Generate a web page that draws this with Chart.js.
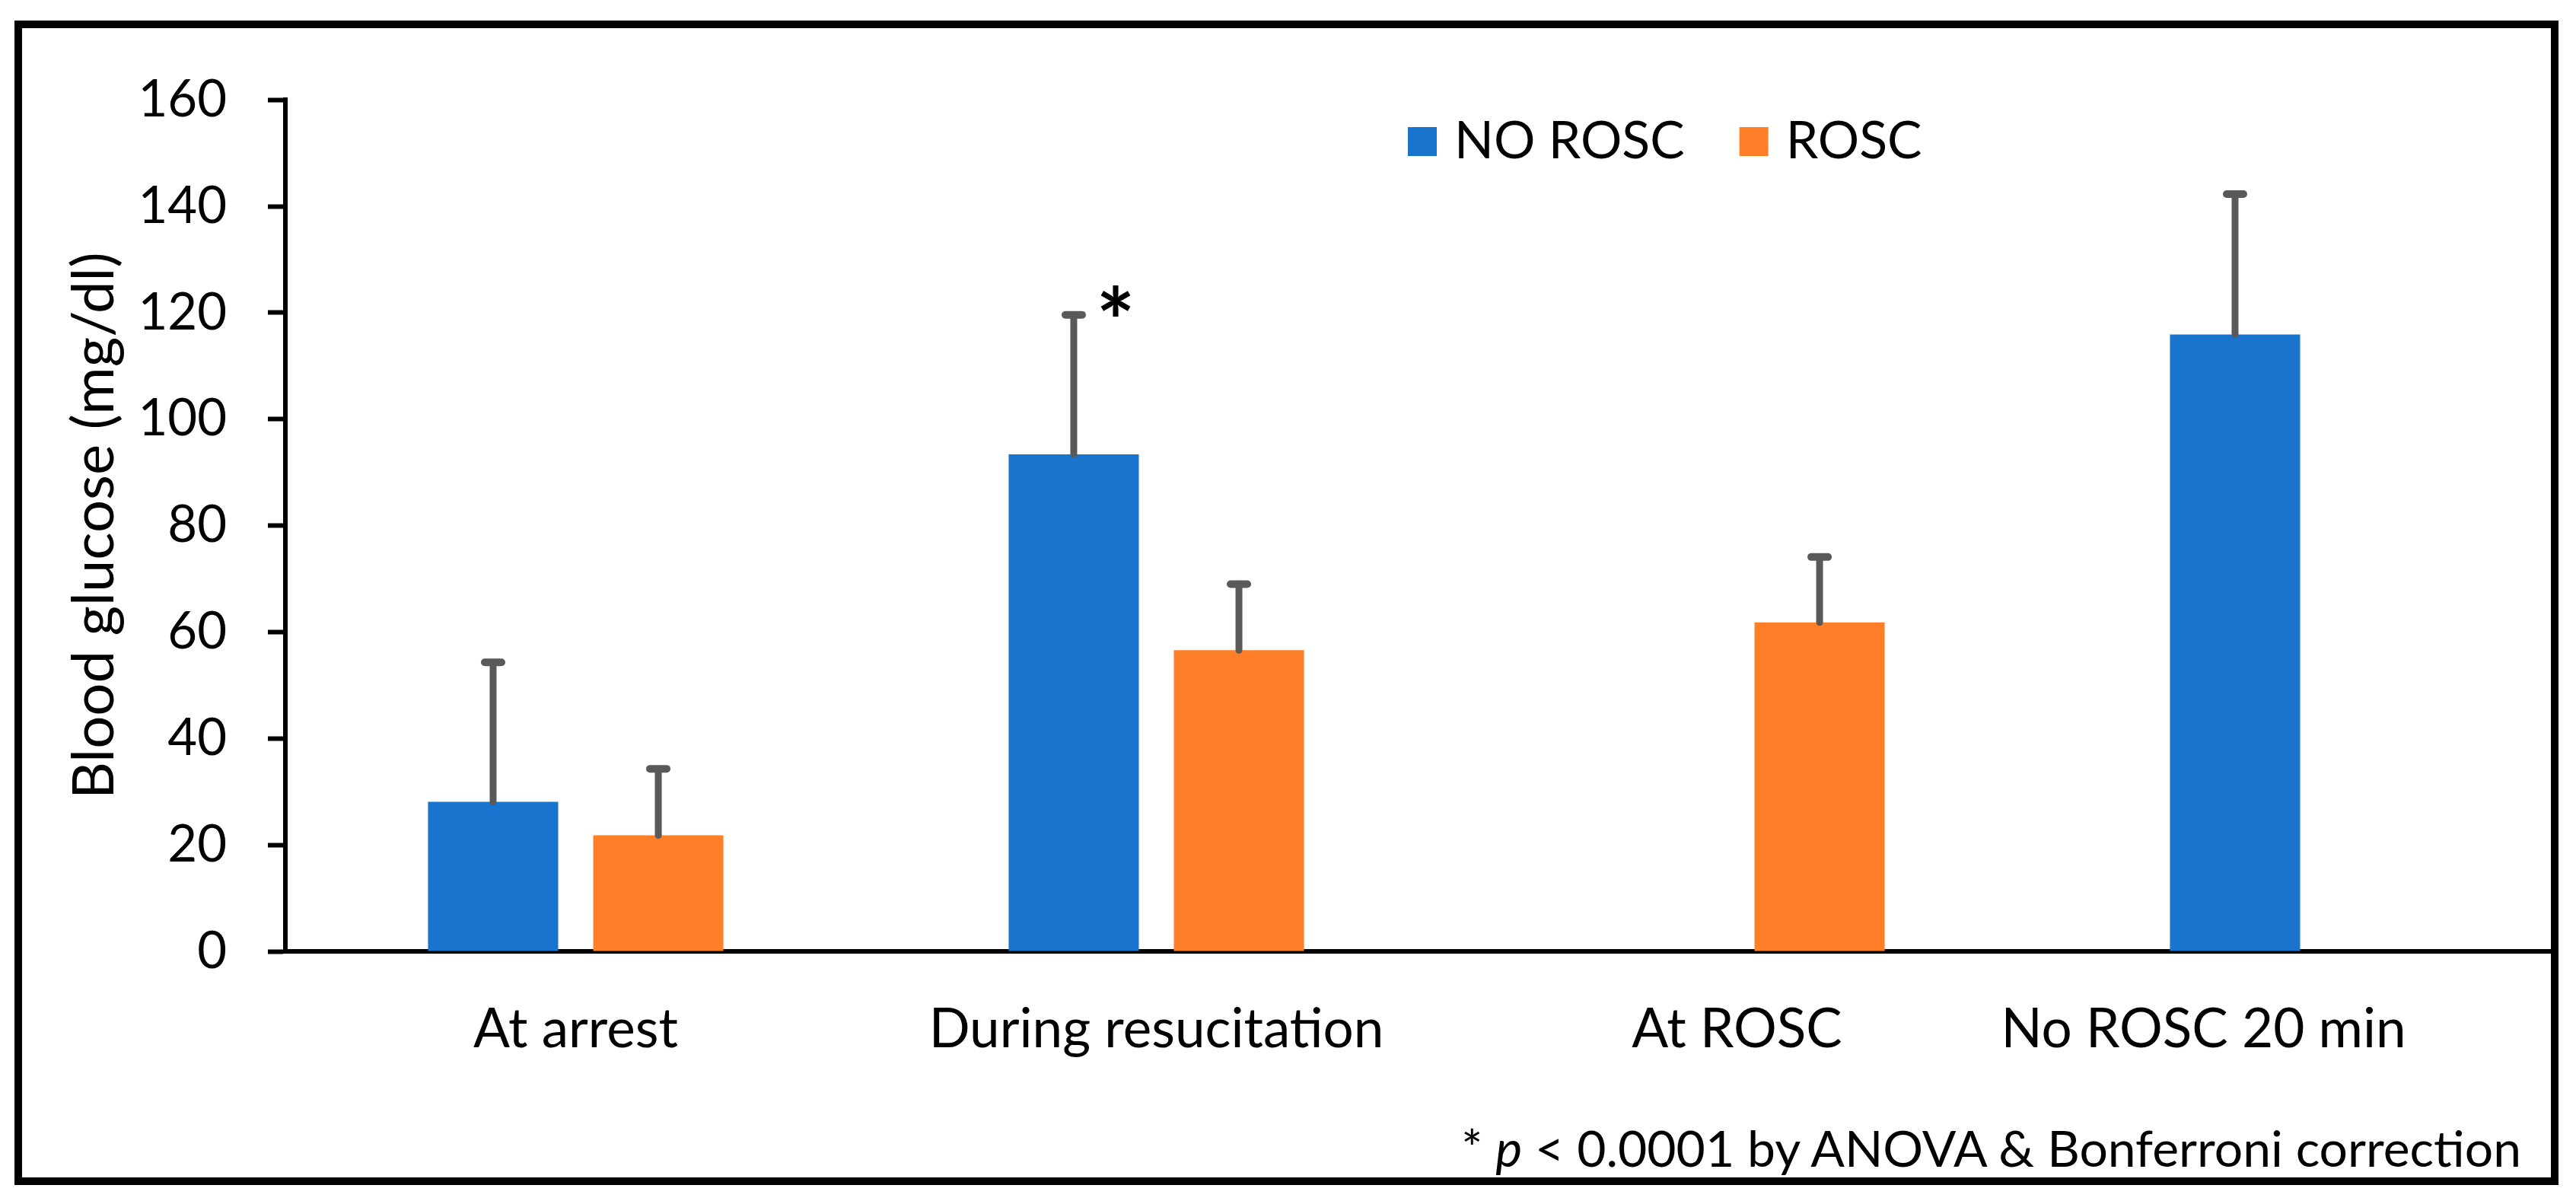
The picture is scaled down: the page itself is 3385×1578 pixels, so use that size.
<!DOCTYPE html>
<html>
<head>
<meta charset="utf-8">
<title>Blood glucose</title>
<script src="https://cdn.jsdelivr.net/npm/chart.js@4.4.1/dist/chart.umd.min.js"></script>
<style>
  html, body { margin: 0; padding: 0; background: #fff; }
  body { width: 3385px; height: 1578px; position: relative; overflow: hidden; font-family: Lato, sans-serif; }
  #frame { position: absolute; left: 19px; top: 27px; width: 3323px; height: 1510px; border: 10px solid #000; overflow: hidden; background: #fff; }
  #chartBox { position: absolute; left: 0; top: 0; width: 3420px; height: 1510px; }
  #note { position: absolute; right: 39px; top: 1433px; height: 76px; line-height: 76px; font-size: 66px; color: #000; white-space: nowrap; }
</style>
</head>
<body>
<div id="frame">
  <div id="chartBox"><canvas id="glucoseChart"></canvas></div>
  <div id="note">* <i>p</i> &lt; 0.0001 by ANOVA &amp; Bonferroni correction</div>
</div>
<script>
// values
const categories = ['At arrest', 'During resucitation', 'At ROSC', 'No ROSC 20 min'];
const seriesNames = ['NO ROSC', 'ROSC'];
const noRoscMean = [28.1, 93.4, null, 115.9];
const noRoscSd = [26.2, 26.2, null, 26.4];
const roscMean = [21.8, 56.6, 61.8, null];
const roscSd = [12.5, 12.4, 12.3, null];
const yTicks = [0, 20, 40, 60, 80, 100, 120, 140, 160];
const starred = [{ dataset: 0, index: 1 }];

const BLUE = '#1874cd';
const ORANGE = '#fe7f27';
const ERR = '#595959';
const FONT = 'Lato';
const labelNudge = [0, 0, 0, -150];

const errorBars = {
    id: 'errorBars',
    afterDatasetsDraw(chart) {
        const ctx = chart.ctx;
        const y = chart.scales.y;
        chart.data.datasets.forEach((ds, i) => {
            const meta = chart.getDatasetMeta(i);
            meta.data.forEach((bar, j) => {
                const v = ds.data[j];
                const sd = ds.sd[j];
                if (v == null || sd == null) return;
                const top = y.getPixelForValue(v + sd);
                ctx.save();
                ctx.strokeStyle = ERR;
                ctx.lineCap = 'round';
                ctx.lineWidth = 9;
                ctx.beginPath();
                ctx.moveTo(bar.x, bar.y);
                ctx.lineTo(bar.x, top);
                ctx.stroke();
                ctx.lineWidth = 10;
                ctx.beginPath();
                ctx.moveTo(bar.x - 11, top);
                ctx.lineTo(bar.x + 11, top);
                ctx.stroke();
                ctx.restore();
            });
        });
    }
};

const extras = {
    id: 'extras',
    afterDraw(chart) {
        const ctx = chart.ctx;
        const x = chart.scales.x;
        const y = chart.scales.y;
        ctx.save();
        ctx.fillStyle = '#000';

        // category labels
        ctx.font = '71px ' + FONT;
        ctx.textAlign = 'center';
        ctx.textBaseline = 'middle';
        categories.forEach((c, i) => {
            ctx.fillText(c, x.getPixelForValue(i) + labelNudge[i], x.top + 103);
        });

        // legend
        ctx.font = '68px ' + FONT;
        let lx = 1821;
        const ly = 149;
        ctx.textAlign = 'left';
        chart.data.datasets.forEach(ds => {
            ctx.fillStyle = ds.backgroundColor;
            ctx.fillRect(lx, ly - 19, 38, 38);
            ctx.fillStyle = '#000';
            ctx.fillText(ds.label, lx + 61, ly);
            lx += 61 + ctx.measureText(ds.label).width + 72;
        });

        // significance marks
        ctx.font = 'bold 120px ' + FONT;
        ctx.textAlign = 'center';
        ctx.textBaseline = 'alphabetic';
        starred.forEach(s => {
            const ds = chart.data.datasets[s.dataset];
            const bar = chart.getDatasetMeta(s.dataset).data[s.index];
            const top = y.getPixelForValue(ds.data[s.index] + ds.sd[s.index]);
            const m = ctx.measureText('*');
            const cy = top - 19;
            ctx.fillText('*', bar.x + 55, cy + (m.actualBoundingBoxAscent - m.actualBoundingBoxDescent) / 2);
        });
        ctx.restore();
    }
};

new Chart(document.getElementById('glucoseChart'), {
    type: 'bar',
    data: {
        labels: categories,
        datasets: [
            { label: seriesNames[0], data: noRoscMean, sd: noRoscSd, backgroundColor: BLUE },
            { label: seriesNames[1], data: roscMean, sd: roscSd, backgroundColor: ORANGE }
        ]
    },
    options: {
        responsive: true,
        maintainAspectRatio: false,
        devicePixelRatio: 1,
        animation: false,
        events: [],
        categoryPercentage: 0.569,
        barPercentage: 0.788,
        layout: { padding: { top: 92, right: 22, left: 0, bottom: 0 } },
        plugins: {
            legend: { display: false },
            tooltip: { enabled: false }
        },
        scales: {
            x: {
                offset: true,
                grid: { display: false },
                border: { display: true, color: '#000', width: 6 },
                ticks: { display: false },
                afterFit: s => { s.height = 297; }
            },
            y: {
                min: 0,
                max: 160,
                afterBuildTicks: s => { s.ticks = yTicks.map(v => ({ value: v })); },
                ticks: { padding: 54, color: '#000', font: { family: FONT, size: 67 } },
                grid: { drawOnChartArea: false, drawTicks: true, tickLength: 23, tickWidth: 6, tickColor: '#000' },
                border: { display: true, color: '#000', width: 6 },
                title: {
                    display: true,
                    text: 'Blood glucose (mg/dl)',
                    color: '#000',
                    font: { family: FONT, size: 76 },
                    padding: { top: 50, bottom: 0 }
                },
                afterFit: s => { s.width = 346; }
            }
        }
    },
    plugins: [errorBars, extras]
});
</script>
</body>
</html>
